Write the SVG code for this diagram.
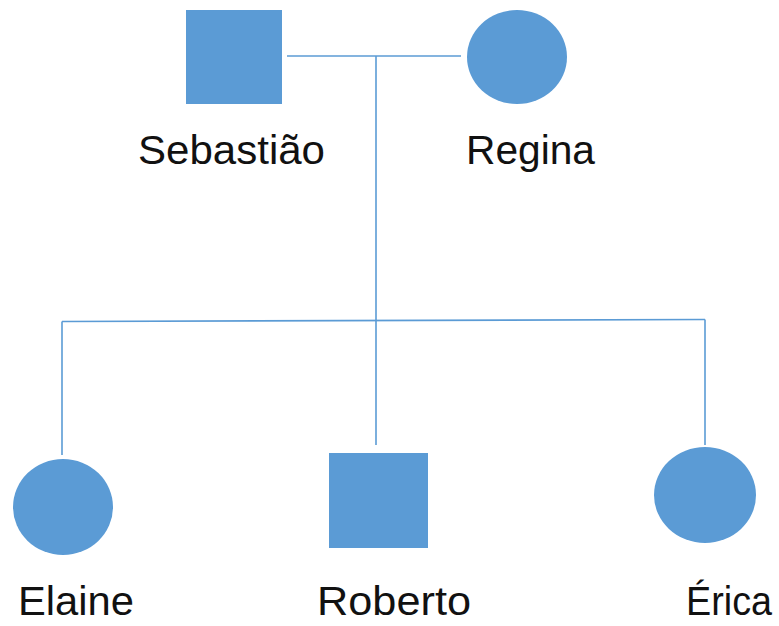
<svg xmlns="http://www.w3.org/2000/svg" width="779" height="626" viewBox="0 0 779 626">
  <style>
    .shape { fill: #5B9BD5; }
    .link { fill: none; stroke: #5B9BD5; stroke-width: 1.6; }
    .label { font-family: "Liberation Sans", Arial, sans-serif; font-size: 40px; fill: #111111; }
  </style>
  <rect width="779" height="626" fill="#ffffff"/>

  <g id="connectors">
    <!-- marriage line -->
    <line class="link" x1="287" y1="56" x2="461" y2="56"/>
    <!-- descent line -->
    <line class="link" x1="376" y1="56" x2="376" y2="445"/>
    <!-- sibling bar -->
    <line class="link" x1="62" y1="321.5" x2="705" y2="319.5"/>
    <line class="link" x1="62" y1="321.5" x2="62" y2="455"/>
    <line class="link" x1="705" y1="319.5" x2="705" y2="445"/>
  </g>

  <g id="sebastiao">
    <rect class="shape" x="186" y="10" width="96" height="94"/>
    <text class="label" x="138" y="164" textLength="187" lengthAdjust="spacingAndGlyphs">Sebastião</text>
  </g>

  <g id="regina">
    <ellipse class="shape" cx="517" cy="57" rx="50" ry="47"/>
    <text class="label" x="466" y="164" textLength="129" lengthAdjust="spacingAndGlyphs">Regina</text>
  </g>

  <g id="elaine">
    <ellipse class="shape" cx="63" cy="507" rx="50" ry="48"/>
    <text class="label" x="18" y="615" textLength="116" lengthAdjust="spacingAndGlyphs">Elaine</text>
  </g>

  <g id="roberto">
    <rect class="shape" x="329" y="453" width="99" height="95"/>
    <text class="label" x="317" y="615" textLength="154" lengthAdjust="spacingAndGlyphs">Roberto</text>
  </g>

  <g id="erica">
    <ellipse class="shape" cx="705" cy="495" rx="51" ry="48"/>
    <text class="label" x="686" y="615" textLength="86" lengthAdjust="spacingAndGlyphs">Érica</text>
  </g>
</svg>
